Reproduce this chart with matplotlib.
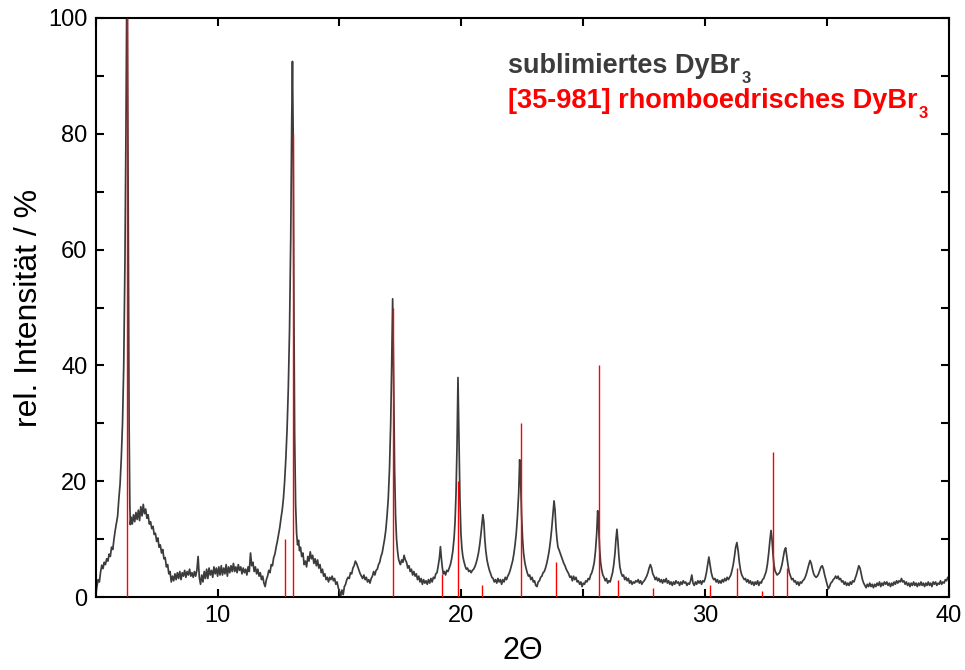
import matplotlib
matplotlib.use("Agg")
import matplotlib.pyplot as plt
from matplotlib.ticker import MultipleLocator

plt.rcParams['font.family'] = ['Liberation Sans', 'DejaVu Sans']

# Measured powder pattern of sublimed DyBr3 (2-theta in degrees, relative intensity in %)
two_theta = [
    5.00, 5.05, 5.10, 5.15, 5.20, 5.25, 5.30, 5.35, 5.40, 5.45,
    5.50, 5.55, 5.60, 5.65, 5.70, 5.75, 5.80, 5.85, 5.90, 5.95,
    6.00, 6.05, 6.10, 6.15, 6.20, 6.24, 6.27, 6.30, 6.34, 6.37,
    6.40, 6.42, 6.45, 6.50, 6.55, 6.60, 6.65, 6.70, 6.75, 6.80,
    6.85, 6.90, 6.95, 7.00, 7.05, 7.10, 7.15, 7.20, 7.25, 7.30,
    7.35, 7.40, 7.45, 7.50, 7.55, 7.60, 7.65, 7.70, 7.75, 7.80,
    7.85, 7.90, 7.95, 8.00, 8.05, 8.10, 8.15, 8.20, 8.25, 8.30,
    8.35, 8.40, 8.45, 8.50, 8.55, 8.60, 8.65, 8.70, 8.75, 8.80,
    8.85, 8.90, 8.95, 9.00, 9.05, 9.10, 9.15, 9.20, 9.25, 9.30,
    9.35, 9.40, 9.45, 9.50, 9.55, 9.60, 9.65, 9.70, 9.75, 9.80,
    9.85, 9.90, 9.95, 10.00, 10.05, 10.10, 10.15, 10.20, 10.25, 10.30,
    10.35, 10.40, 10.45, 10.50, 10.55, 10.60, 10.65, 10.70, 10.75, 10.80,
    10.85, 10.90, 10.95, 11.00, 11.05, 11.10, 11.15, 11.20, 11.25, 11.30,
    11.35, 11.40, 11.45, 11.50, 11.55, 11.60, 11.65, 11.70, 11.75, 11.80,
    11.85, 11.90, 11.95, 12.00, 12.05, 12.10, 12.15, 12.20, 12.25, 12.30,
    12.35, 12.40, 12.45, 12.50, 12.55, 12.60, 12.65, 12.70, 12.75, 12.80,
    12.85, 12.90, 12.95, 13.00, 13.04, 13.07, 13.10, 13.13, 13.16, 13.20,
    13.24, 13.28, 13.32, 13.36, 13.40, 13.45, 13.50, 13.55, 13.60, 13.65,
    13.70, 13.75, 13.80, 13.85, 13.90, 13.95, 14.00, 14.05, 14.10, 14.15,
    14.20, 14.25, 14.30, 14.35, 14.40, 14.45, 14.50, 14.55, 14.60, 14.65,
    14.70, 14.75, 14.80, 14.85, 14.90, 14.95, 15.00, 15.05, 15.10, 15.15,
    15.20, 15.25, 15.30, 15.35, 15.40, 15.45, 15.50, 15.55, 15.60, 15.65,
    15.70, 15.75, 15.80, 15.85, 15.90, 15.95, 16.00, 16.05, 16.10, 16.15,
    16.20, 16.25, 16.30, 16.35, 16.40, 16.45, 16.50, 16.55, 16.60, 16.65,
    16.70, 16.75, 16.80, 16.85, 16.90, 16.95, 17.00, 17.05, 17.10, 17.14,
    17.18, 17.22, 17.26, 17.30, 17.34, 17.38, 17.42, 17.46, 17.50, 17.55,
    17.60, 17.65, 17.70, 17.75, 17.80, 17.85, 17.90, 17.95, 18.00, 18.05,
    18.10, 18.15, 18.20, 18.25, 18.30, 18.35, 18.40, 18.45, 18.50, 18.55,
    18.60, 18.65, 18.70, 18.75, 18.80, 18.85, 18.90, 18.95, 19.00, 19.05,
    19.10, 19.14, 19.18, 19.22, 19.26, 19.30, 19.35, 19.40, 19.45, 19.50,
    19.55, 19.60, 19.65, 19.70, 19.74, 19.78, 19.82, 19.86, 19.90, 19.94,
    19.98, 20.02, 20.06, 20.10, 20.15, 20.20, 20.25, 20.30, 20.35, 20.40,
    20.45, 20.50, 20.55, 20.60, 20.65, 20.70, 20.75, 20.80, 20.84, 20.88,
    20.92, 20.96, 21.00, 21.05, 21.10, 21.15, 21.20, 21.25, 21.30, 21.35,
    21.40, 21.45, 21.50, 21.55, 21.60, 21.65, 21.70, 21.75, 21.80, 21.85,
    21.90, 21.95, 22.00, 22.05, 22.10, 22.15, 22.20, 22.25, 22.30, 22.35,
    22.39, 22.43, 22.47, 22.51, 22.55, 22.60, 22.65, 22.70, 22.75, 22.80,
    22.85, 22.90, 22.95, 23.00, 23.05, 23.10, 23.15, 23.20, 23.25, 23.30,
    23.35, 23.40, 23.45, 23.50, 23.55, 23.60, 23.65, 23.70, 23.75, 23.80,
    23.84, 23.88, 23.92, 23.96, 24.00, 24.05, 24.10, 24.15, 24.20, 24.25,
    24.30, 24.35, 24.40, 24.45, 24.50, 24.55, 24.60, 24.65, 24.70, 24.75,
    24.80, 24.85, 24.90, 24.95, 25.00, 25.05, 25.10, 25.15, 25.20, 25.25,
    25.30, 25.35, 25.40, 25.45, 25.50, 25.55, 25.59, 25.63, 25.67, 25.71,
    25.75, 25.80, 25.85, 25.90, 25.95, 26.00, 26.05, 26.10, 26.15, 26.20,
    26.25, 26.30, 26.34, 26.38, 26.42, 26.46, 26.50, 26.55, 26.60, 26.65,
    26.70, 26.75, 26.80, 26.85, 26.90, 26.95, 27.00, 27.05, 27.10, 27.15,
    27.20, 27.25, 27.30, 27.35, 27.40, 27.45, 27.50, 27.55, 27.60, 27.65,
    27.70, 27.75, 27.80, 27.85, 27.90, 27.95, 28.00, 28.05, 28.10, 28.15,
    28.20, 28.25, 28.30, 28.35, 28.40, 28.45, 28.50, 28.55, 28.60, 28.65,
    28.70, 28.75, 28.80, 28.85, 28.90, 28.95, 29.00, 29.05, 29.10, 29.15,
    29.20, 29.25, 29.30, 29.35, 29.40, 29.45, 29.50, 29.55, 29.60, 29.65,
    29.70, 29.75, 29.80, 29.85, 29.90, 29.95, 30.00, 30.05, 30.10, 30.15,
    30.20, 30.25, 30.30, 30.35, 30.40, 30.45, 30.50, 30.55, 30.60, 30.65,
    30.70, 30.75, 30.80, 30.85, 30.90, 30.95, 31.00, 31.05, 31.10, 31.15,
    31.20, 31.25, 31.30, 31.35, 31.40, 31.45, 31.50, 31.55, 31.60, 31.65,
    31.70, 31.75, 31.80, 31.85, 31.90, 31.95, 32.00, 32.05, 32.10, 32.15,
    32.20, 32.25, 32.30, 32.35, 32.40, 32.45, 32.50, 32.55, 32.60, 32.65,
    32.70, 32.74, 32.78, 32.82, 32.86, 32.90, 32.95, 33.00, 33.05, 33.10,
    33.15, 33.20, 33.25, 33.30, 33.35, 33.40, 33.45, 33.50, 33.55, 33.60,
    33.65, 33.70, 33.75, 33.80, 33.85, 33.90, 33.95, 34.00, 34.05, 34.10,
    34.15, 34.20, 34.25, 34.30, 34.35, 34.40, 34.45, 34.50, 34.55, 34.60,
    34.65, 34.70, 34.75, 34.80, 34.85, 34.90, 34.95, 35.00, 35.05, 35.10,
    35.15, 35.20, 35.25, 35.30, 35.35, 35.40, 35.45, 35.50, 35.55, 35.60,
    35.65, 35.70, 35.75, 35.80, 35.85, 35.90, 35.95, 36.00, 36.05, 36.10,
    36.15, 36.20, 36.25, 36.30, 36.35, 36.40, 36.45, 36.50, 36.55, 36.60,
    36.65, 36.70, 36.75, 36.80, 36.85, 36.90, 36.95, 37.00, 37.05, 37.10,
    37.15, 37.20, 37.25, 37.30, 37.35, 37.40, 37.45, 37.50, 37.55, 37.60,
    37.65, 37.70, 37.75, 37.80, 37.85, 37.90, 37.95, 38.00, 38.05, 38.10,
    38.15, 38.20, 38.25, 38.30, 38.35, 38.40, 38.45, 38.50, 38.55, 38.60,
    38.65, 38.70, 38.75, 38.80, 38.85, 38.90, 38.95, 39.00, 39.05, 39.10,
    39.15, 39.20, 39.25, 39.30, 39.35, 39.40, 39.45, 39.50, 39.55, 39.60,
    39.65, 39.70, 39.75, 39.80, 39.85, 39.90, 39.95, 40.00,
]
intensity = [
    0.3, 1.8, 3.0, 2.6, 4.3, 5.5, 4.9, 6.0, 5.6, 6.6,
    6.2, 7.4, 7.0, 8.6, 8.2, 10.0, 11.5, 12.8, 14.0, 17.0,
    19.5, 24, 30, 40, 58, 80, 101, 101, 60, 30,
    16, 12.5, 13.8, 12.6, 14.2, 13.0, 14.6, 13.4, 15.0, 13.2,
    15.6, 14.0, 16.0, 14.4, 15.2, 13.6, 14.2, 12.6, 13.0, 11.8,
    12.2, 10.8, 11.0, 9.6, 10.2, 8.6, 9.0, 7.6, 8.2, 6.6,
    6.8, 5.2, 5.6, 4.0, 4.4, 2.6, 3.6, 2.8, 4.0, 3.0,
    4.2, 3.2, 4.4, 3.0, 4.2, 3.6, 4.6, 3.4, 4.4, 3.8,
    4.8, 3.6, 4.2, 3.4, 4.4, 3.6, 4.6, 7.0, 3.4, 2.2,
    3.8, 2.6, 4.4, 3.2, 4.8, 3.2, 5.0, 3.8, 4.6, 3.4,
    5.2, 4.0, 5.0, 3.6, 5.2, 3.8, 5.4, 3.8, 5.0, 4.0,
    5.6, 3.6, 5.2, 4.2, 5.4, 4.4, 5.8, 4.4, 5.2, 4.2,
    5.6, 4.6, 5.2, 4.0, 5.0, 4.2, 4.8, 3.8, 5.2, 4.4,
    7.6, 5.4, 6.0, 4.4, 5.2, 4.0, 4.8, 3.6, 4.2, 3.0,
    3.6, 2.4, 1.8, 3.0, 3.6, 4.6, 4.2, 5.6, 5.4, 6.8,
    7.4, 8.6, 9.6, 10.8, 12.0, 13.6, 15.0, 17.0, 20.0, 24,
    29, 36, 46, 62, 82, 92.5, 80, 50, 28, 16,
    11, 9.0, 9.8, 8.0, 8.6, 7.0, 7.6, 5.6, 6.2, 5.2,
    7.0, 6.2, 7.8, 6.6, 7.2, 5.8, 6.6, 5.4, 6.4, 5.0,
    5.6, 4.2, 4.8, 3.6, 4.0, 3.0, 3.4, 2.6, 3.4, 3.0,
    3.6, 2.8, 3.2, 2.2, 2.6, 1.6, 1.0, 0.2, 1.2, 0.4,
    1.8, 2.2, 3.0, 3.4, 3.2, 4.2, 4.0, 5.0, 5.4, 6.2,
    5.8, 5.2, 4.6, 4.0, 3.6, 3.2, 3.8, 3.0, 3.4, 2.6,
    3.0, 2.4, 3.2, 3.6, 4.4, 3.8, 4.6, 4.8, 5.6, 6.0,
    7.0, 7.6, 8.8, 10.0, 11.6, 14.0, 17.0, 22, 30, 40,
    51.5, 38, 22, 14, 10, 8.0, 6.6, 6.0, 5.6, 6.4,
    6.0, 7.2, 6.4, 6.0, 5.0, 5.4, 4.4, 4.8, 3.8, 4.4,
    3.6, 4.0, 3.0, 3.6, 2.6, 3.2, 2.2, 3.0, 2.4, 2.8,
    2.2, 3.0, 2.4, 3.2, 2.6, 3.4, 3.2, 4.0, 4.2, 5.4,
    6.8, 8.7, 6.6, 5.0, 4.0, 4.4, 3.8, 4.6, 4.4, 5.0,
    5.6, 6.6, 8.0, 10.2, 13, 18, 26, 37.9, 28, 17,
    11, 8.4, 7.0, 6.2, 5.4, 4.8, 5.0, 4.4, 4.6, 4.2,
    4.6, 4.8, 5.2, 5.8, 6.6, 7.6, 9.0, 10.8, 12.6, 14.2,
    13.0, 10.0, 8.0, 6.4, 5.4, 4.6, 4.0, 3.4, 3.2, 2.6,
    3.0, 2.4, 3.2, 2.6, 3.0, 2.2, 3.0, 2.6, 3.4, 3.0,
    3.6, 4.0, 4.6, 5.4, 6.2, 7.4, 9.0, 11.0, 14.0, 18.0,
    23.7, 20, 14, 10, 7.6, 6.0, 5.0, 4.2, 3.6, 3.8,
    3.0, 3.4, 2.6, 2.8, 2.0, 1.8, 2.6, 2.8, 3.4, 3.6,
    4.2, 4.4, 5.0, 5.8, 6.8, 8.0, 9.6, 11.6, 14.0, 16.6,
    15, 12, 10, 8.6, 8.2, 7.6, 7.0, 6.4, 5.8, 5.4,
    4.8, 4.4, 4.0, 3.4, 3.6, 2.8, 3.6, 3.0, 3.4, 2.6,
    2.8, 2.2, 2.6, 1.8, 2.4, 2.2, 2.8, 2.6, 3.2, 3.0,
    3.8, 4.2, 5.0, 6.0, 8.0, 11.0, 14.9, 12, 8.4, 6.0,
    4.8, 3.8, 3.4, 2.8, 3.2, 2.4, 2.8, 2.6, 3.4, 4.2,
    5.6, 7.6, 10.0, 11.7, 9.6, 7.0, 5.2, 4.2, 3.6, 3.8,
    3.0, 3.4, 2.8, 3.2, 2.4, 2.8, 2.2, 2.6, 2.4, 2.8,
    2.6, 3.0, 2.4, 2.8, 2.2, 2.6, 2.8, 3.2, 3.6, 4.2,
    5.0, 5.6, 5.0, 4.0, 3.6, 3.0, 3.4, 2.8, 3.2, 2.6,
    3.0, 2.4, 3.0, 2.6, 3.2, 2.4, 2.8, 2.2, 2.6, 2.0,
    2.6, 2.2, 2.8, 2.4, 2.6, 2.0, 2.6, 2.2, 2.8, 2.4,
    2.6, 2.0, 2.4, 2.2, 2.8, 3.8, 2.4, 2.0, 2.6, 2.2,
    2.8, 2.4, 2.8, 2.2, 2.8, 2.6, 3.2, 4.2, 5.6, 6.9,
    5.6, 4.2, 3.4, 3.0, 3.2, 2.6, 3.0, 2.4, 2.8, 2.4,
    3.0, 2.6, 3.2, 2.8, 3.4, 3.0, 3.4, 3.8, 4.6, 5.6,
    7.0, 8.6, 9.4, 8.0, 6.0, 4.6, 3.8, 3.4, 3.0, 3.2,
    2.6, 3.0, 2.4, 2.8, 2.2, 2.6, 2.0, 2.6, 2.2, 2.8,
    2.0, 2.6, 2.4, 3.0, 3.2, 3.8, 4.4, 5.6, 7.4, 9.6,
    11.5, 10.0, 7.4, 5.6, 4.6, 4.2, 3.8, 4.0, 4.2, 4.8,
    5.6, 6.8, 8.0, 8.5, 7.0, 5.4, 4.2, 3.6, 3.0, 3.2,
    2.6, 2.8, 2.2, 2.6, 2.0, 2.6, 2.4, 2.8, 3.0, 3.4,
    4.0, 4.8, 5.6, 6.3, 5.8, 4.8, 4.0, 3.6, 3.4, 3.6,
    4.0, 4.6, 5.2, 5.4, 4.8, 3.8, 3.0, 2.2, 1.4, 1.8,
    2.4, 2.6, 3.0, 3.2, 3.6, 3.2, 3.6, 3.0, 3.2, 2.6,
    2.8, 2.2, 2.6, 2.0, 2.4, 2.0, 2.6, 2.2, 2.8, 2.6,
    3.2, 3.8, 4.6, 5.4, 5.0, 4.0, 3.0, 2.4, 2.0, 1.6,
    2.2, 1.8, 2.4, 1.8, 2.2, 1.6, 2.2, 1.8, 2.4, 2.0,
    2.6, 1.8, 2.4, 2.0, 2.6, 2.2, 2.6, 2.0, 2.4, 1.8,
    2.4, 2.0, 2.6, 2.2, 2.8, 2.4, 2.8, 2.6, 3.2, 2.6,
    2.8, 2.2, 2.6, 2.0, 2.4, 1.8, 2.4, 2.0, 2.6, 2.0,
    2.4, 1.8, 2.4, 2.0, 2.6, 2.0, 2.4, 1.8, 2.4, 2.0,
    2.6, 2.0, 2.4, 1.8, 2.6, 2.2, 2.6, 2.0, 2.4, 2.2,
    2.8, 2.2, 2.6, 2.4, 3.0, 2.8, 3.4, 3.2,
]

# PDF card 35-981, rhombohedral DyBr3: reflection positions and relative intensities
ref_pos = [6.30, 12.75, 13.11, 17.19, 19.20, 19.86, 20.86, 22.44, 23.87,
           25.65, 26.43, 27.87, 30.20, 31.32, 32.32, 32.78, 33.35]
ref_int = [100, 10, 80, 50, 4, 20, 2, 30, 6,
           40, 3, 1.5, 2, 5, 1, 25, 5]

x_ticks = [10, 20, 30, 40]
y_ticks = [0, 20, 40, 60, 80, 100]

label_sample = "sublimiertes DyBr"
label_ref = "[35-981] rhomboedrisches DyBr"
sample_color = "#3c3c3c"
ref_color = "#ff0000"

fig = plt.figure(figsize=(9.65, 6.7), dpi=100)
ax = fig.add_axes([95.7 / 965, 73 / 670, 853.3 / 965, 579 / 670])

ax.plot(two_theta, intensity, color=sample_color, lw=1.25, zorder=2)
ax.vlines(ref_pos, 0, ref_int, color=ref_color, lw=1.0, zorder=3)

ax.set_xlim(5, 40)
ax.set_ylim(0, 100)
ax.set_xticks(x_ticks)
ax.set_yticks(y_ticks)
ax.xaxis.set_minor_locator(MultipleLocator(5))
ax.yaxis.set_minor_locator(MultipleLocator(10))
ax.tick_params(which='both', direction='in', top=True, right=True,
               length=6, width=1.5, labelsize=17, pad=6, colors='black')
for s in ax.spines.values():
    s.set_linewidth(1.5)

ax.set_xlabel("2\u0398", fontsize=22, labelpad=6)
ax.set_ylabel("rel. Intensit\u00e4t / %", fontsize=23, labelpad=3)

t1 = fig.text(508 / 965, (670 - 73.3) / 670, label_sample, fontsize=19.5,
              fontweight='bold', color=sample_color, va='baseline', ha='left')
ax.annotate("3", xy=(1, 0), xycoords=t1, xytext=(1, -3), textcoords='offset points',
            fontsize=12, fontweight='bold', color=sample_color, va='baseline', ha='left')
t2 = fig.text(508 / 965, (670 - 108) / 670, label_ref, fontsize=19.5,
              fontweight='bold', color=ref_color, va='baseline', ha='left')
ax.annotate("3", xy=(1, 0), xycoords=t2, xytext=(1, -3), textcoords='offset points',
            fontsize=12, fontweight='bold', color=ref_color, va='baseline', ha='left')

fig.savefig("out.png", dpi=100)
